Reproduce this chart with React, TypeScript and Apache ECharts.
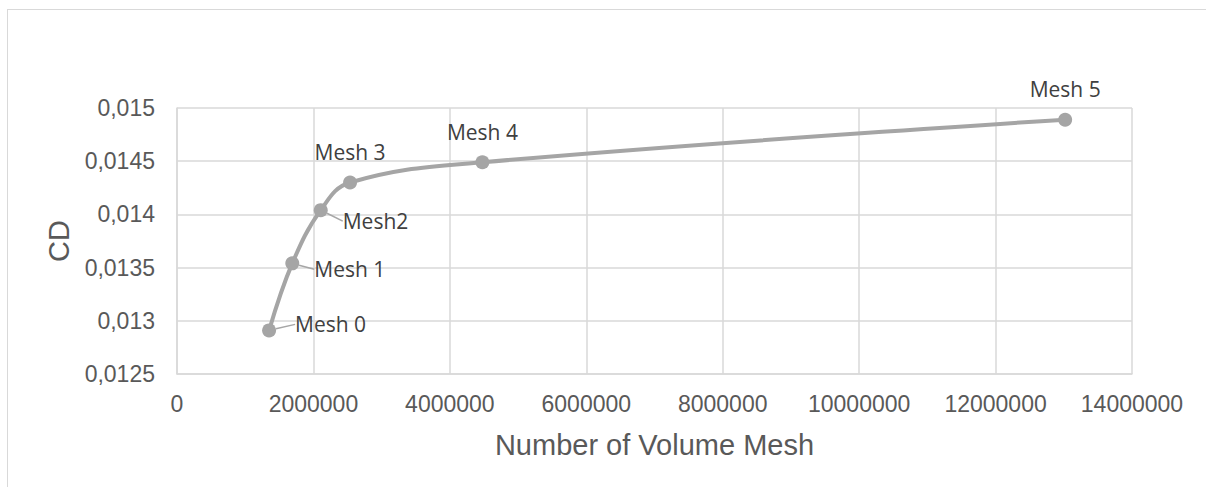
import React, { useEffect, useRef } from "react";
import * as echarts from "echarts";

const meshNames = ["Mesh 0", "Mesh 1", "Mesh2", "Mesh 3", "Mesh 4", "Mesh 5"];
const meshCounts = [1350000, 1690000, 2107000, 2537000, 4477000, 13020000];
const cdValues = [0.01291, 0.01354, 0.01404, 0.0143, 0.01449, 0.01489];
const labelSides = ["right", "right", "right", "top", "top", "top"];
const labelShifts = [
  [14, -6],
  [10, 6],
  [10, 11],
  [0, -8],
  [0, -8],
  [0, -8],
];

const grey = "#a5a5a5";
const gridGrey = "#d9d9d9";
const textGrey = "#595959";

export default function App() {
  const ref = useRef<HTMLDivElement>(null);
  useEffect(() => {
    if (!ref.current) return;
    const chart = echarts.init(ref.current, null, { renderer: "svg" });
    const data = meshCounts.map((x, i) => ({
      value: [x, cdValues[i]],
      name: meshNames[i],
      label: { position: labelSides[i] },
      labelLine: { show: labelSides[i] === "right" },
    }));
    chart.setOption({
      animation: false,
      grid: { left: 177, right: 74, top: 108, bottom: 113 },
      xAxis: {
        type: "value",
        min: 0,
        max: 14000000,
        interval: 2000000,
        name: "Number of Volume Mesh",
        nameLocation: "middle",
        nameGap: 56,
        nameTextStyle: { fontFamily: "Liberation Sans", fontSize: 29, color: textGrey },
        axisLine: { show: true, lineStyle: { color: gridGrey, width: 1.5 } },
        axisTick: { show: false },
        splitLine: { show: true, lineStyle: { color: gridGrey, width: 1.5 } },
        axisLabel: {
          fontFamily: "Liberation Sans",
          fontSize: 23,
          color: textGrey,
          margin: 18,
          formatter: (v: number) => String(v),
        },
      },
      yAxis: {
        type: "value",
        min: 0.0125,
        max: 0.015,
        interval: 0.0005,
        name: "CD",
        nameLocation: "middle",
        nameRotate: 90,
        nameGap: 104,
        nameTextStyle: { fontFamily: "Liberation Sans", fontSize: 29, color: textGrey },
        axisLine: { show: true, lineStyle: { color: gridGrey, width: 1.5 } },
        axisTick: { show: false },
        splitLine: { show: true, lineStyle: { color: gridGrey, width: 1.5 } },
        axisLabel: {
          fontFamily: "Liberation Sans",
          fontSize: 23,
          color: textGrey,
          margin: 22,
          formatter: (v: number) => String(+v.toFixed(5)).replace(".", ","),
        },
      },
      series: [
        {
          type: "line",
          data,
          smooth: 0.4,
          symbol: "circle",
          symbolSize: 14,
          lineStyle: { color: grey, width: 4 },
          itemStyle: { color: grey },
          label: {
            show: true,
            formatter: (p: any) => p.name,
            fontFamily: "Open Sans",
            fontSize: 21,
            color: "#404040",
          },
          labelLine: { show: false, lineStyle: { color: "#a6a6a6", width: 1.5 } },
          labelLayout: (p: any) => ({
            dx: labelShifts[p.dataIndex][0],
            dy: labelShifts[p.dataIndex][1],
          }),
        },
      ],
    });
    return () => chart.dispose();
  }, []);
  return (
    <div
      style={{
        position: "absolute",
        left: 0,
        top: 0,
        width: 1206,
        height: 487,
        overflow: "hidden",
      }}
    >
      <div
        style={{
          position: "absolute",
          left: 7,
          top: 9,
          width: 1400,
          height: 700,
          borderTop: `1.5px solid ${gridGrey}`,
          borderLeft: `1.5px solid ${gridGrey}`,
        }}
      />
      <div
        ref={ref}
        style={{ position: "absolute", left: 0, top: 0, width: 1206, height: 487 }}
      />
    </div>
  );
}
